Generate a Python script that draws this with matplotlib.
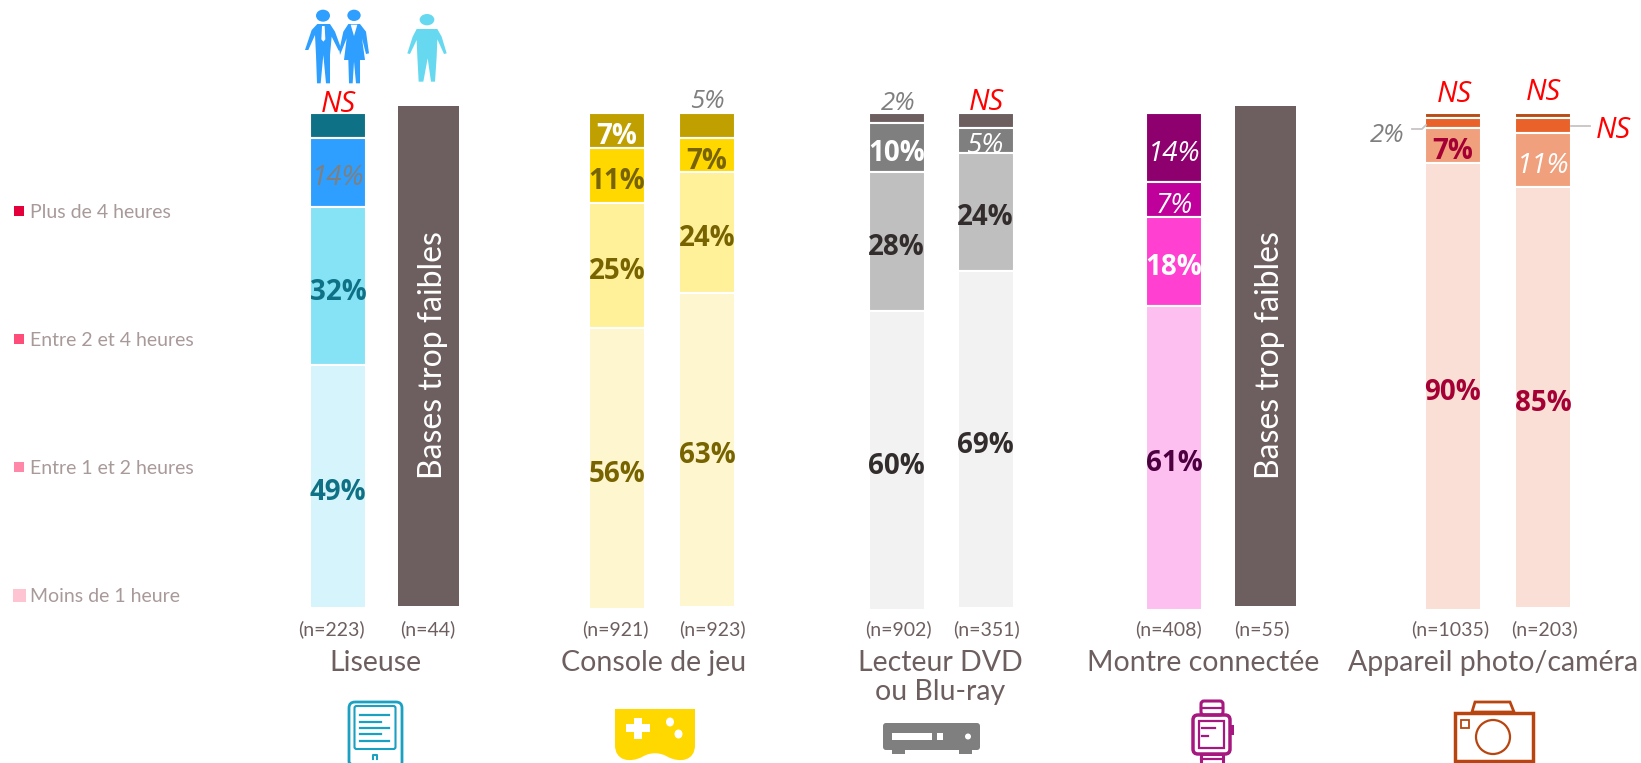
import matplotlib
matplotlib.use('Agg')
import matplotlib.pyplot as plt
from matplotlib.patches import Rectangle, FancyBboxPatch, Ellipse, Polygon, PathPatch
from matplotlib.path import Path

# Values, top segment first
liseuse_all = [5, 14, 32, 49]
console_all = [7, 11.2, 25.2, 56.9]
console_young = [5, 7, 24.3, 63.4]
dvd_all = [2, 10, 28, 60.4]
dvd_young = [3, 5, 24, 68]
montre_all = [14, 7, 18, 61.4]
photo_all = [1, 2, 7, 90.4]
photo_young = [1, 3, 11, 85]

labels_liseuse = ['', '14%', '32%', '49%']
labels_console_all = ['7%', '11%', '25%', '56%']
labels_console_young = ['', '7%', '24%', '63%']
labels_dvd_all = ['', '10%', '28%', '60%']
labels_dvd_young = ['', '5%', '24%', '69%']
labels_montre = ['14%', '7%', '18%', '61%']
labels_photo_all = ['', '', '7%', '90%']
labels_photo_young = ['', '', '11%', '85%']

colors_liseuse = ['#0e7185', '#2e9fff', '#86e2f5', '#d6f4fb']
colors_console = ['#bfa000', '#ffd800', '#fff09a', '#fdf6cf']
colors_dvd = ['#6d5f5f', '#7f7f7f', '#bfbfbf', '#f2f2f2']
colors_montre = ['#8f006f', '#c0009a', '#ff40d0', '#fdbff0']
colors_photo = ['#b84a12', '#e8622a', '#f0a07c', '#f9dfd5']

legend_labels = ['Plus de 4 heures', 'Entre 2 et 4 heures', 'Entre 1 et 2 heures', 'Moins de 1 heure']
legend_colors = ['#e4003a', '#ff4d7a', '#ff88a8', '#ffc4d2']

categories = ['Liseuse', 'Console de jeu', 'Lecteur DVD\nou Blu-ray', 'Montre connectée', 'Appareil photo/caméra']
base_labels = ['(n=223)', '(n=44)', '(n=921)', '(n=923)', '(n=902)', '(n=351)', '(n=408)', '(n=55)', '(n=1035)', '(n=203)']

TXT = '#6d5f5f'
LEG = '#a99a9a'
OLIVE = '#776300'
BODY = 'Open Sans'
CAT = 'Lato'

fig = plt.figure(figsize=(16.41, 7.63), dpi=100)

# bars: y axis in percent, x axis in picture pixels
ax = fig.add_axes([0, 0, 1, 1])
ax.set_xlim(0, 1641)
ax.set_ylim(-31.31, 122.83)
ax.axis('off')

# overlay in pixels for annotations and icons
ov = fig.add_axes([0, 0, 1, 1])
ov.set_xlim(0, 1641)
ov.set_ylim(763, 0)
ov.axis('off')
ov.patch.set_alpha(0)

stacks = [
    (338, liseuse_all, labels_liseuse, colors_liseuse, ['#7f7f7f' if i == 1 else '#0e7185' for i in range(4)], [False, False, True, True]),
    (617, console_all, labels_console_all, colors_console, ['white', OLIVE, OLIVE, OLIVE], [True] * 4),
    (707, console_young, labels_console_young, colors_console, [OLIVE] * 4, [True] * 4),
    (896.5, dvd_all, labels_dvd_all, colors_dvd, ['white', 'white', '#332c2c', '#332c2c'], [True] * 4),
    (985.5, dvd_young, labels_dvd_young, colors_dvd, ['white', 'white', '#332c2c', '#332c2c'], [False, False, True, True]),
    (1174, montre_all, labels_montre, colors_montre, ['white', 'white', 'white', '#4d0040'], [False, False, True, True]),
    (1452.5, photo_all, labels_photo_all, colors_photo, ['white', 'white', '#a50034', '#a50034'], [True] * 4),
    (1543, photo_young, labels_photo_young, colors_photo, ['white', 'white', 'white', '#a50034'], [False, False, False, True]),
]

for x, vals, labs, cols, tcols, bold in stacks:
    top = 100
    for v, lab, c, tc, b in zip(vals, labs, cols, tcols, bold):
        ax.bar(x, v, width=56, bottom=top - v, color=c, edgecolor='white', linewidth=1.5)
        if lab:
            ax.text(x, top - v / 2 - 1.2, lab, color=tc, ha='center', va='center', family=BODY,
                    fontsize=20, fontweight='bold' if b else 'normal',
                    fontstyle='normal' if b else 'italic')
        top -= v

# the two columns without data
for x in [428.5, 1265]:
    ax.bar(x, 101, width=61, bottom=0.4, color='#6d5f5f', edgecolor='none')
    ax.text(x + 5, 51.2, 'Bases trop faibles', color='white', rotation=90, ha='center', va='center',
            family=CAT, fontsize=23)

# floating labels above or beside the bars
for x, y, s in [(338, 104, 'NS'), (986, 102, 'NS'), (1454, 94, 'NS'), (1543, 92, 'NS'), (1613, 130, 'NS')]:
    ov.text(x, y, s, color='#ff0000', fontsize=21, fontstyle='italic', family=BODY, ha='center', va='center')
for x, y, s in [(707, 102, '5%'), (898, 103, '2%'), (1387, 135, '2%')]:
    ov.text(x, y, s, color='#7f7f7f', fontsize=18.5, fontstyle='italic', family=BODY, ha='center', va='center')
ov.plot([1412, 1422, 1426], [129, 129, 125], color='#c8c4c4', lw=1.3)
ov.plot([1571, 1590], [126, 126], color='#c8c4c4', lw=1.3)

# base sizes and category names
base_x = [331, 428, 615, 712, 898, 987, 1168, 1262, 1450, 1545]
for x, s in zip(base_x, base_labels):
    ov.text(x, 629, s, color=TXT, fontsize=14, family=CAT, ha='center', va='center')
cat_x = [375, 654, 940, 1203, 1493]
for x, s in zip(cat_x, categories):
    ov.text(x, 650, s, color=TXT, fontsize=20.5, family=CAT, ha='center', va='top', linespacing=1.15)

# legend
for y, s, c in zip([211, 339, 467, 595], legend_labels, legend_colors):
    size = 13 if c == legend_colors[-1] else 10.5
    ov.add_patch(Rectangle((19 - size / 2, y - size / 2), size, size, color=c, lw=0))
    ov.text(30, y + 1, s, color=LEG, fontsize=14, family=CAT, ha='left', va='center')

# people icons, coordinates taken from the 3x crop
def zp(pts):
    return [(280 + a / 3, b / 3) for a, b in pts]

def head(cx, cy, rx, ry, c):
    ov.add_patch(Ellipse((280 + cx / 3, cy / 3), 2 * rx / 3, 2 * ry / 3, color=c, lw=0))

BLUE = '#2e9fff'
head(129, 47, 21, 18, BLUE)
ov.add_patch(Polygon(zp([(112, 72), (150, 72), (165, 95), (185, 150), (176, 152), (155, 110), (150, 165), (150, 250),
                         (138, 250), (130, 165), (122, 250), (111, 250), (108, 165), (105, 105), (85, 150), (75, 150), (95, 90)]),
                     color=BLUE, lw=0))
ov.add_patch(Polygon(zp([(126, 78), (134, 78), (136, 118), (130, 125), (124, 118)]), color='white', lw=0))
head(222, 46, 20, 17, BLUE)
ov.add_patch(Polygon(zp([(205, 72), (240, 72), (258, 95), (267, 160), (258, 162), (246, 115), (255, 180), (240, 180),
                         (240, 250), (228, 250), (222, 185), (218, 250), (207, 250), (205, 180), (192, 180), (200, 115),
                         (180, 165), (178, 150), (190, 95)]), color=BLUE, lw=0))
ov.add_patch(Polygon(zp([(212, 74), (232, 74), (222, 108)]), color='white', lw=0))
CYAN = '#66d9f0'
head(441, 59, 22, 17, CYAN)
ov.add_patch(Polygon(zp([(410, 87), (472, 87), (485, 110), (500, 160), (492, 162), (472, 118), (470, 170), (465, 245),
                         (453, 245), (443, 175), (430, 245), (416, 245), (412, 170), (410, 120), (390, 162), (382, 160), (398, 110)]),
                     color=CYAN, lw=0))

# reader
TEAL = '#1aa0c0'
ov.add_patch(FancyBboxPatch((349, 702), 53, 66, boxstyle='round,pad=0,rounding_size=6', fc='none', ec=TEAL, lw=2))
ov.add_patch(FancyBboxPatch((354.5, 706), 41, 43, boxstyle='round,pad=0,rounding_size=2', fc='none', ec=TEAL, lw=1.5))
for y, x2 in zip([715, 722, 728, 734, 741], [389, 381, 389, 381, 389]):
    ov.plot([360, x2], [y, y], color=TEAL, lw=1.6)
ov.plot([373, 373, 377, 377], [759, 755, 755, 759], color=TEAL, lw=1.5)

# game pad
YEL = '#ffd800'
pad = Path([(615, 709), (695, 709), (695, 745),
            (695, 761), (680, 763), (668, 757),
            (660, 752), (650, 752), (642, 757),
            (630, 763), (615, 761), (615, 745),
            (615, 709)],
           [Path.MOVETO, Path.LINETO, Path.LINETO] + [Path.CURVE4] * 9 + [Path.LINETO])
ov.add_patch(PathPatch(pad, fc=YEL, ec='none'))
ov.add_patch(Rectangle((626, 724), 24, 8, color='white', lw=0))
ov.add_patch(Rectangle((634, 718), 8, 21, color='white', lw=0))
ov.add_patch(Ellipse((670, 722), 8, 9, color='white', lw=0))
ov.add_patch(Ellipse((678.5, 734), 8, 9, color='white', lw=0))

# dvd player
GREY = '#7f7f7f'
ov.add_patch(FancyBboxPatch((883, 723), 97, 27, boxstyle='round,pad=0,rounding_size=3', fc=GREY, ec='none'))
ov.add_patch(Rectangle((892, 750), 13, 4, color=GREY, lw=0))
ov.add_patch(Rectangle((959, 750), 13, 4, color=GREY, lw=0))
ov.add_patch(Rectangle((892, 733), 40, 7, color='white', lw=0))
ov.add_patch(Rectangle((937, 733), 6, 7, color='white', lw=0))
ov.add_patch(Ellipse((968, 736.5), 6, 6, color='white', lw=0))

# watch
PUR = '#a6187f'
ov.add_patch(FancyBboxPatch((1193, 715), 37, 39, boxstyle='round,pad=0,rounding_size=5', fc='none', ec=PUR, lw=2.5))
ov.add_patch(Rectangle((1199, 721), 25, 27, fc='none', ec=PUR, lw=1.6))
ov.add_patch(FancyBboxPatch((1201, 701), 22, 14, boxstyle='round,pad=0,rounding_size=3', fc='none', ec=PUR, lw=2.2))
ov.add_patch(Rectangle((1201, 754), 22, 12, fc='none', ec=PUR, lw=2.2))
ov.plot([1201, 1223], [708, 708], color=PUR, lw=1.6)
ov.plot([1201, 1223], [759, 759], color=PUR, lw=1.6)
ov.add_patch(Rectangle((1231, 725), 3, 10, color=PUR, lw=0))
ov.plot([1202, 1215], [728, 728], color=PUR, lw=1.6)
ov.plot([1202, 1208], [736, 736], color=PUR, lw=1.6)

# camera
BRN = '#b84510'
ov.add_patch(Rectangle((1454.5, 713), 78, 48, fc='none', ec=BRN, lw=2.5))
ov.add_patch(Polygon([(1472, 712), (1475, 702), (1510, 702), (1514, 712)], fc='none', ec=BRN, lw=2))
ov.add_patch(Ellipse((1493, 737), 34, 34, fc='none', ec=BRN, lw=1.6))
ov.add_patch(Rectangle((1461, 720), 8, 8, fc='none', ec=BRN, lw=1.3))

fig.savefig('out.png', dpi=100)
